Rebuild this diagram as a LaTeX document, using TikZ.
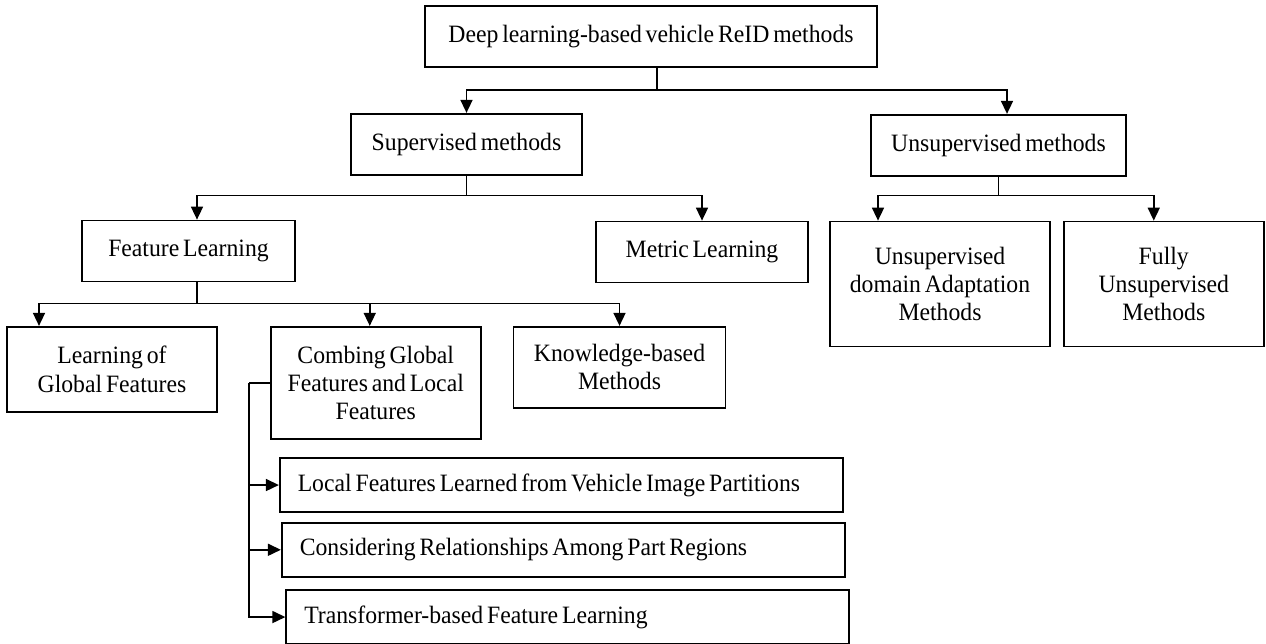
\documentclass[tikz,border=0pt]{standalone}
\usepackage{fontspec}
\setmainfont{Liberation Serif}[FakeStretch=0.95,WordSpace=0.65]
\usetikzlibrary{arrows.meta,positioning,calc}
\tikzset{
  box/.style={rectangle, draw, line width=1pt, align=center, inner sep=2pt, font=\fontsize{14.2}{16.1}\selectfont},
  topic/.style={box, minimum height=1.22cm},
  leaf/.style={box, minimum width=4.2cm},
  longbox/.style={box, align=flush left, text width=10.54cm, inner xsep=0.36cm, minimum height=1.08cm},
  arrow/.style={-{Triangle[length=0.26cm,width=0.24cm]}, line width=0.9pt},
  link/.style={line width=0.9pt}
}

\begin{document}
\begin{tikzpicture}
  \useasboundingbox (0,0) rectangle (25.32,-12.88);
  \node[topic, minimum width=9.04cm] (root) at (13.02,-0.73) {Deep learning-based vehicle ReID methods};
  \node[topic, minimum width=4.62cm, below=0.9cm of root, xshift=-3.69cm] (sup) {Supervised methods};
  \node[topic, minimum width=5.1cm, below=0.92cm of root, xshift=6.95cm] (unsup) {Unsupervised methods};
  \node[topic, minimum width=4.26cm, below=0.88cm of sup, xshift=-5.56cm] (feat) {Feature Learning};
  \node[topic, minimum width=4.24cm, below=0.9cm of sup, xshift=4.71cm] (metric) {Metric Learning};
  \node[box, minimum width=4.4cm, minimum height=2.5cm, below=0.88cm of unsup, xshift=-1.17cm] (uda) {Unsupervised\\domain Adaptation\\Methods};
  \node[box, minimum width=4cm, minimum height=2.5cm, right=0.24cm of uda] (fully) {Fully\\Unsupervised\\Methods};
  \node[leaf, minimum height=1.7cm, below=0.87cm of feat, xshift=-1.53cm] (global) {Learning of\\Global Features};
  \node[leaf, minimum height=2.24cm, below right=0cm and 1.04cm of global.north east] (comb) {Combing Global\\Features and Local\\Features};
  \node[leaf, minimum width=4.24cm, minimum height=1.62cm, below right=0cm and 0.62cm of comb.north east] (know) {Knowledge-based\\Methods};
  \node[longbox, below right=0.35cm and 0.18cm of comb.south west] (local) {Local Features Learned from Vehicle Image Partitions};
  \node[longbox, below right=0.18cm and 0.04cm of local.south west] (rel) {Considering Relationships Among Part Regions};
  \node[longbox, below right=0.23cm and 0.09cm of rel.south west] (trans) {Transformer-based Feature Learning};
  % top split
  \draw[link] ([xshift=0.12cm]root.south) -- ++(0,-0.44) coordinate (j1);
  \draw[arrow] (j1) -| (sup.north);
  \draw[arrow] (j1) -| ([xshift=0.17cm]unsup.north);
  % supervised
  \draw[link] (sup.south) -- ++(0,-0.4) coordinate (j2);
  \draw[arrow] (j2) -| ([xshift=0.17cm]feat.north);
  \draw[arrow] (j2) -| (metric.north);
  % unsupervised
  \draw[link] (unsup.south) -- ++(0,-0.38) coordinate (j3);
  \draw[arrow] (j3) -| ([xshift=-1.24cm]uda.north);
  \draw[arrow] (j3) -| ([xshift=-0.2cm]fully.north);
  % feature learning
  \draw[link] ([xshift=0.17cm]feat.south) -- ++(0,-0.42) coordinate (j4);
  \draw[arrow] (j4) -| ([xshift=-1.46cm]global.north);
  \draw[arrow] (j4) -| ([xshift=-0.12cm]comb.north);
  \draw[arrow] (j4) -| (know.north);
  % local feature branches
  \draw[link] (comb.west) -- ++(-0.42,0) coordinate (j5);
  \draw[arrow] (j5) |- (trans.west);
  \draw[arrow] (j5 |- local.west) -- (local.west);
  \draw[arrow] (j5 |- rel.west) -- (rel.west);
\end{tikzpicture}
\end{document}
